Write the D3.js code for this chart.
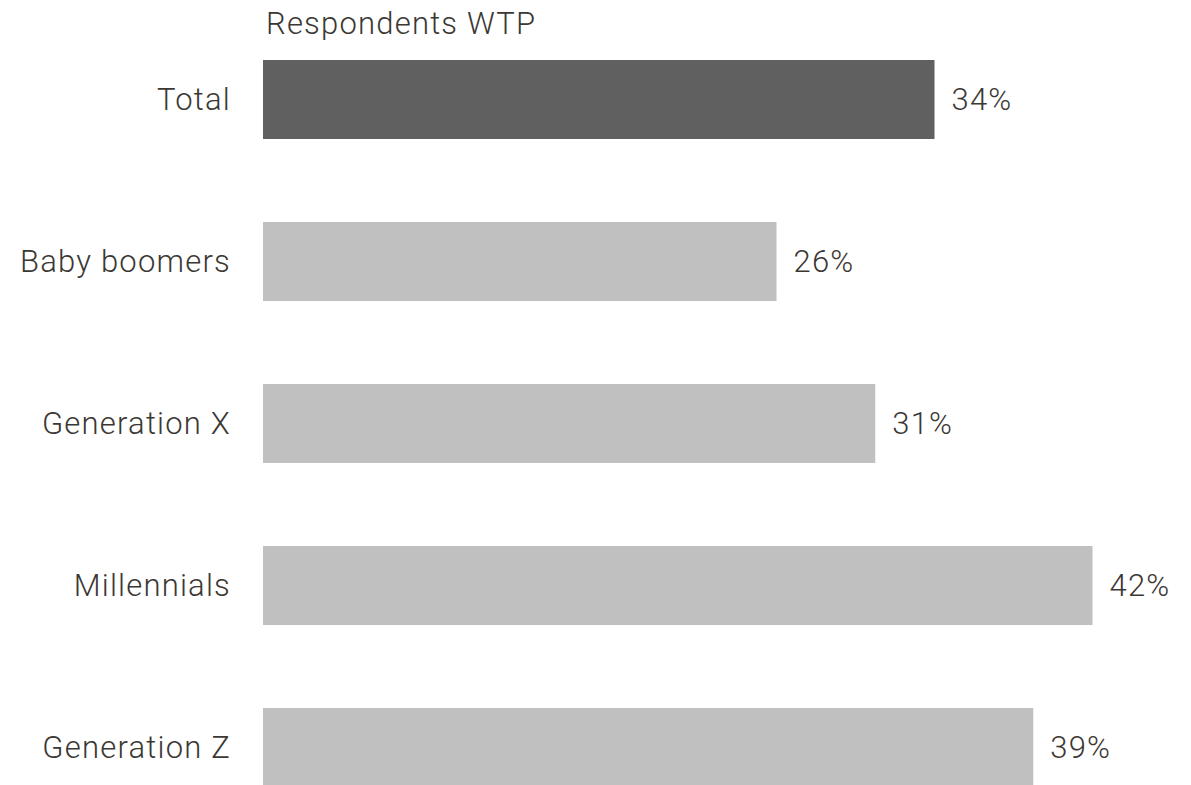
<!DOCTYPE html>
<html>
<head>
<meta charset="utf-8">
<script src="https://cdn.jsdelivr.net/npm/d3@7"></script>
<style>
  html, body { margin: 0; padding: 0; background: #ffffff; }
  svg { display: block; }
  text { font-family: Roboto, "Liberation Sans", Arial, sans-serif; font-weight: 300; fill: #3b3834; letter-spacing: 1.2px; }
</style>
</head>
<body>
<svg id="chart" width="1191" height="785"></svg>
<script>
// Share of respondents willing to pay, by generation
const categories = ["Total", "Baby boomers", "Generation X", "Millennials", "Generation Z"];
const values = [34, 26, 31, 42, 39];
const valueLabels = ["34%", "26%", "31%", "42%", "39%"];
const title = "Respondents WTP";

const svg = d3.select("#chart");
const fontSize = 31;

const x = d3.scaleLinear().domain([0, 42]).range([263, 1092.5]);
const y = d3.scaleBand()
  .domain(categories)
  .range([60, 787])
  .paddingInner(83 / 162)
  .paddingOuter(0);

const color = c => c === "Total" ? "#606060" : "#c0c0c0";

// bars
svg.selectAll("rect.bar")
  .data(categories)
  .join("rect")
  .attr("class", "bar")
  .attr("x", x(0))
  .attr("y", d => y(d))
  .attr("width", (d, i) => x(values[i]) - x(0))
  .attr("height", y.bandwidth())
  .attr("fill", color);

// category labels
svg.selectAll("text.cat")
  .data(categories)
  .join("text")
  .attr("class", "cat")
  .attr("x", 231)
  .attr("y", d => y(d) + y.bandwidth() / 2 + fontSize * 0.34)
  .attr("text-anchor", "end")
  .style("font-size", fontSize + "px")
  .text(d => d);

// value labels
svg.selectAll("text.val")
  .data(categories)
  .join("text")
  .attr("class", "val")
  .attr("x", (d, i) => x(values[i]) + 17)
  .attr("y", d => y(d) + y.bandwidth() / 2 + fontSize * 0.34)
  .style("font-size", fontSize + "px")
  .text((d, i) => valueLabels[i]);

// column title
svg.append("text")
  .attr("x", 266)
  .attr("y", 34)
  .style("font-size", fontSize + "px")
  .text(title);
</script>
</body>
</html>
